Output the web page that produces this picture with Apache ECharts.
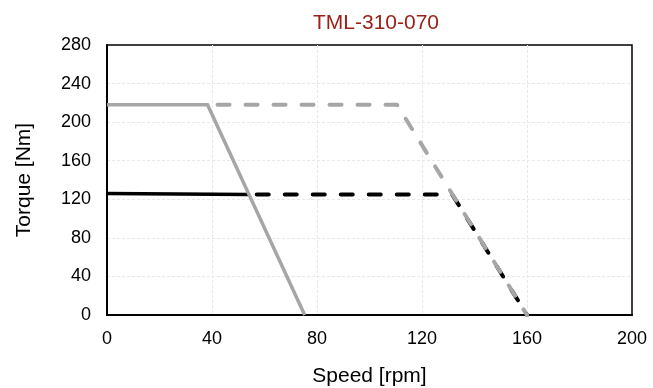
<!DOCTYPE html>
<html>
<head>
<meta charset="utf-8">
<script src="https://cdn.jsdelivr.net/npm/echarts@6/dist/echarts.min.js"></script>
<style>
  html, body { margin: 0; padding: 0; background: #fff; }
  #chart { width: 653px; height: 388px; }
</style>
</head>
<body>
<div id="chart"></div>
<script>
// Torque/speed curves: [speed rpm, torque Nm]
const blackDashed = [[54, 125], [131.5, 125], [160, 0]];
const greyDashed = [[38.3, 218], [110.5, 218], [160, 0]];
const blackSolid = [[0, 126], [54, 125]];
const greySolid = [[0, 218], [38.3, 218], [75.3, 0]];

const X_TICKS = [0, 40, 80, 120, 160, 200];
const Y_TICKS = [0, 40, 80, 120, 160, 200, 240, 280];

const FONT = "'Liberation Sans', Arial, sans-serif";
const GREY = "#a6a6a6";

const line = (name, data, color, dashed, width, offset) => ({
  name,
  type: "line",
  data,
  symbol: "none",
  animation: false,
  lineStyle: dashed
    ? { color, width, type: [12, 16], dashOffset: offset || 0, cap: "round", join: "round" }
    : { color, width, type: "solid", cap: "butt", join: "miter" },
});

// faint grid, but keep the box edges solid black
const split = {
  show: true, showMinLine: false, showMaxLine: false,
  lineStyle: { color: "#e8e8e8", width: 1, type: [3, 2] },
};

const chart = echarts.init(document.getElementById("chart"));
chart.setOption({
  backgroundColor: "#fff",
  title: {
    text: "TML-310-070",
    left: 371, top: 8, textAlign: "center",
    textStyle: { color: "#9b2118", fontFamily: FONT, fontSize: 21, fontWeight: "normal" },
  },
  grid: {
    left: 107, right: 21, top: 45, bottom: 73,
    outerBoundsMode: "none", containLabel: false,
    show: true, borderColor: "#000", borderWidth: 1.5,
  },
  xAxis: {
    type: "value",
    min: X_TICKS[0], max: X_TICKS[X_TICKS.length - 1], interval: 40,
    name: "Speed [rpm]", nameLocation: "middle", nameGap: 51,
    nameTextStyle: { color: "#000", fontFamily: FONT, fontSize: 21 },
    axisLine: { show: true, lineStyle: { color: "#000", width: 2 } },
    axisTick: { show: false },
    axisLabel: { color: "#000", fontFamily: FONT, fontSize: 18, margin: 15 },
    splitLine: split,
  },
  yAxis: {
    type: "value",
    min: Y_TICKS[0], max: Y_TICKS[Y_TICKS.length - 1], interval: 40,
    name: "Torque [Nm]", nameLocation: "middle", nameGap: 72,
    nameTextStyle: { color: "#000", fontFamily: FONT, fontSize: 21 },
    axisLine: { show: true, lineStyle: { color: "#000", width: 2 } },
    axisTick: { show: false },
    axisLabel: { color: "#000", fontFamily: FONT, fontSize: 18, margin: 16 },
    splitLine: split,
  },
  series: [
    line("Black dashed", blackDashed, "#000", true, 4, 20),
    line("Grey dashed", greyDashed, GREY, true, 4, 18),
    line("Black solid", blackSolid, "#000", false, 3.5),
    line("Grey solid", greySolid, GREY, false, 3.5),
  ],
});
</script>
</body>
</html>
